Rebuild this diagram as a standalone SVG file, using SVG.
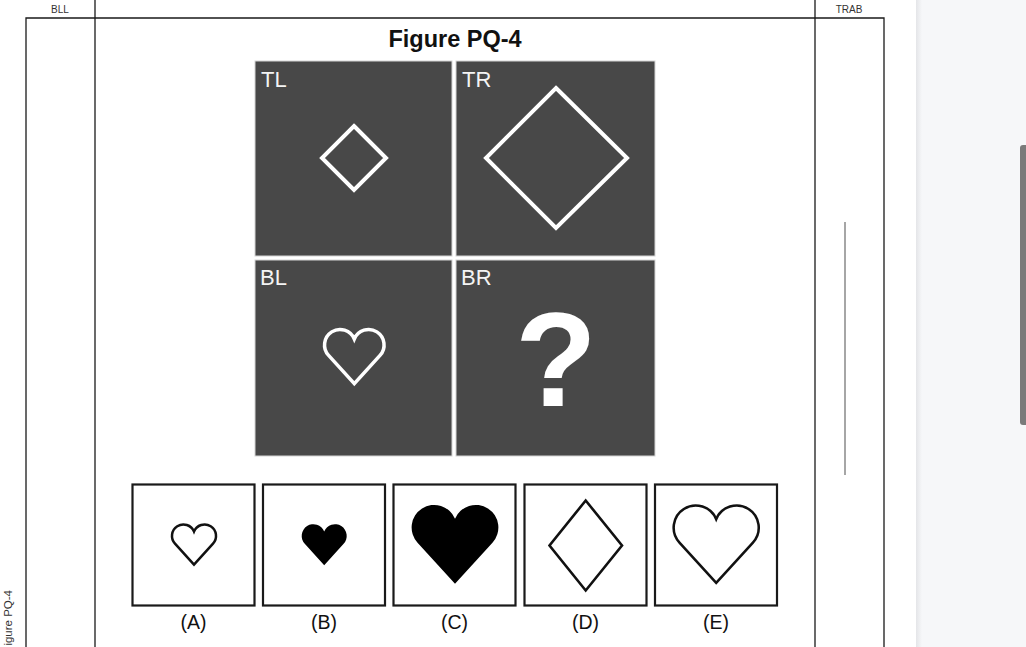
<svg xmlns="http://www.w3.org/2000/svg" width="1026" height="647" viewBox="0 0 1026 647">
<defs>
<style>
.frame{stroke:#1a1a1a;stroke-width:1.3;fill:none}
.tiny{font-family:"Liberation Sans",Arial,sans-serif;font-size:10px;fill:#333}
.panel{fill:#484848;stroke:#d4d4d4;stroke-width:1}
.plabel{font-family:"Liberation Sans",Arial,sans-serif;font-size:22px;fill:#f4f4f4}
.wshape{fill:none;stroke:#ffffff;stroke-width:4}
.opt{fill:#ffffff;stroke:#1a1a1a;stroke-width:2.2}
.olabel{font-family:"Liberation Sans",Arial,sans-serif;font-size:19.5px;fill:#111;text-anchor:middle}
</style>
<path id="heart" d="M0 92 L-43.2 44.5 A26 26 0 1 1 0 17 A26 26 0 1 1 43.2 44.5 Z"/>
<linearGradient id="shadow" x1="0" y1="0" x2="1" y2="0">
<stop offset="0" stop-color="#e4e5e8"/>
<stop offset="1" stop-color="#f6f7f9"/>
</linearGradient>
</defs>
<rect x="0" y="0" width="1026" height="647" fill="#ffffff"/>
<g id="side-panel">
<rect x="916" y="0" width="110" height="647" fill="#f6f7f9"/>
<rect x="916" y="0" width="6" height="647" fill="url(#shadow)"/>
<rect x="1020" y="145" width="8" height="280" rx="3" fill="#7a7a7a"/>
</g>
<g id="page-frame">
<path class="frame" d="M26 647 V18 H884 V647"/>
<line class="frame" x1="95" y1="0" x2="95" y2="647"/>
<line class="frame" x1="815" y1="0" x2="815" y2="647"/>
<line x1="845" y1="222" x2="845" y2="475" stroke="#888" stroke-width="1.5"/>
<text class="tiny" x="60" y="12.5" text-anchor="middle">BLL</text>
<text class="tiny" x="849" y="12.5" text-anchor="middle">TRAB</text>
<text class="tiny" transform="translate(11.5,590) rotate(-90)" text-anchor="end" style="font-size:11.5px">igure PQ-4</text>
</g>
<g id="title">
<text x="455" y="46.5" text-anchor="middle" font-family="'Liberation Sans',Arial,sans-serif" font-weight="bold" font-size="23.5" fill="#111">Figure PQ-4</text>
</g>
<g id="panel-TL">
<rect class="panel" x="255" y="61" width="197" height="195"/>
<text class="plabel" x="261" y="87">TL</text>
<polygon class="wshape" points="354,126 386,158 354,190 322,158"/>
</g>
<g id="panel-TR">
<rect class="panel" x="456" y="61" width="199" height="195"/>
<text class="plabel" x="462" y="87">TR</text>
<polygon class="wshape" points="556,88 627,158 556,228 486,158"/>
</g>
<g id="panel-BL">
<rect class="panel" x="255" y="260" width="197" height="196"/>
<text class="plabel" x="260" y="285">BL</text>
<use href="#heart" class="wshape" transform="translate(354.3,328.9) scale(0.595)" style="stroke-width:5.9"/>
</g>
<g id="panel-BR">
<rect class="panel" x="456" y="260" width="199" height="196"/>
<text class="plabel" x="461" y="285">BR</text>
<text x="556" y="406" text-anchor="middle" font-family="'Liberation Sans',Arial,sans-serif" font-weight="bold" font-size="134" fill="#ffffff">?</text>
</g>
<g id="option-A">
<rect class="opt" x="132.5" y="484.5" width="122" height="121"/>
<use href="#heart" transform="translate(194,524.1) scale(0.44)" fill="none" stroke="#111" stroke-width="5.7"/>
<text class="olabel" x="193.5" y="629">(A)</text>
</g>
<g id="option-B">
<rect class="opt" x="263" y="484.5" width="122" height="121"/>
<use href="#heart" transform="translate(324.2,523.8) scale(0.45)" fill="#000"/>
<text class="olabel" x="324" y="629">(B)</text>
</g>
<g id="option-C">
<rect class="opt" x="393.5" y="484.5" width="122" height="121"/>
<use href="#heart" transform="translate(455,504.1) scale(0.867)" fill="#000"/>
<text class="olabel" x="454.5" y="629">(C)</text>
</g>
<g id="option-D">
<rect class="opt" x="524.5" y="484.5" width="122" height="121"/>
<polygon points="585.7,500.5 622,545.5 585.7,590.5 549.5,545.5" fill="none" stroke="#111" stroke-width="2.6"/>
<text class="olabel" x="585.5" y="629">(D)</text>
</g>
<g id="option-E">
<rect class="opt" x="655" y="484.5" width="122" height="121"/>
<use href="#heart" transform="translate(716.2,504.7) scale(0.85)" fill="none" stroke="#111" stroke-width="3"/>
<text class="olabel" x="716" y="629">(E)</text>
</g>
<g id="connectors"/>
</svg>
